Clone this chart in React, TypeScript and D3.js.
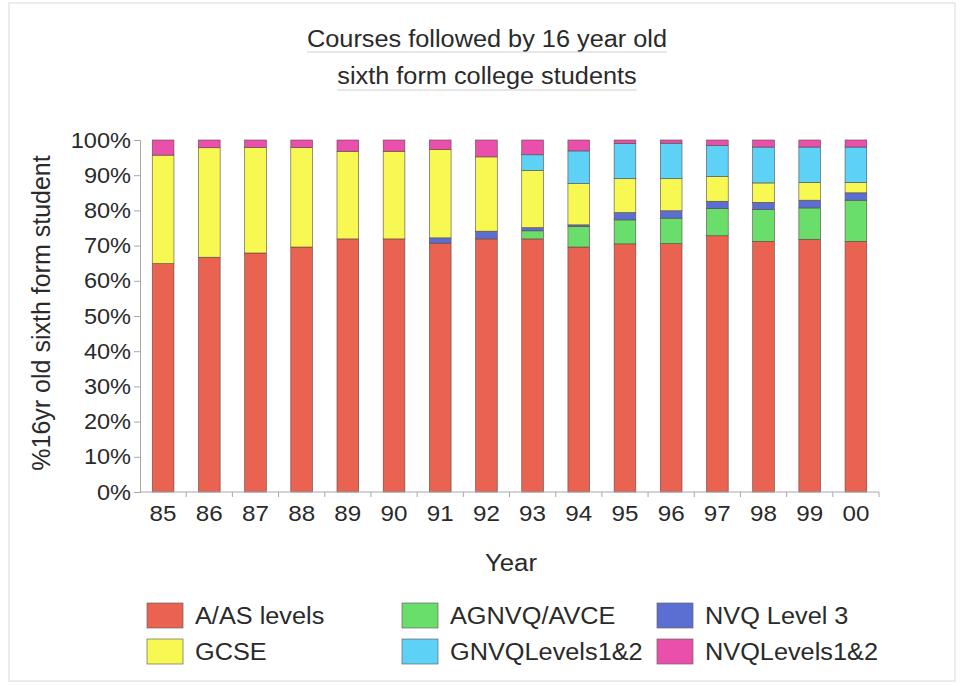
import { useEffect, useRef } from 'react'
import * as d3 from 'd3'

// years on the x axis
const years = ['85', '86', '87', '88', '89', '90', '91', '92', '93', '94', '95', '96', '97', '98', '99', '00']

// percentages, bottom of the stack first
const aasLevels = [64.9, 66.7, 67.9, 69.6, 71.9, 71.9, 70.7, 71.9, 71.9, 69.6, 70.5, 70.6, 72.8, 71.2, 71.8, 71.2]
const agnvq = [0, 0, 0, 0, 0, 0, 0, 0, 2.3, 5.8, 6.8, 7.2, 7.7, 9.0, 8.9, 11.7]
const nvqLevel3 = [0, 0, 0, 0, 0, 0, 1.5, 2.2, 0.9, 0.5, 2.1, 2.1, 2.1, 2.1, 2.2, 2.1]
const gcse = [30.8, 31.1, 30.0, 28.3, 24.9, 24.9, 25.1, 21.1, 16.2, 11.7, 9.6, 9.1, 7.0, 5.5, 5.0, 2.9]
const gnvq12 = [0, 0, 0, 0, 0, 0, 0, 0, 4.5, 9.3, 10.0, 10.1, 8.9, 10.2, 10.1, 10.1]
const nvq12 = [4.3, 2.2, 2.1, 2.1, 3.2, 3.2, 2.7, 4.8, 4.2, 3.1, 1.0, 0.9, 1.5, 2.0, 2.0, 2.0]

const seriesKeys = ['A/AS levels', 'AGNVQ/AVCE', 'NVQ Level 3', 'GCSE', 'GNVQLevels1&2', 'NVQLevels1&2']
const seriesValues = [aasLevels, agnvq, nvqLevel3, gcse, gnvq12, nvq12]
const seriesColors = ['#ea6250', '#6ade6a', '#5b6fd2', '#f8f852', '#5dd2f6', '#e94fab']

// legend is laid out column by column, like the original
const legendOrder = ['A/AS levels', 'GCSE', 'AGNVQ/AVCE', 'GNVQLevels1&2', 'NVQ Level 3', 'NVQLevels1&2']

const yTicks = [0, 10, 20, 30, 40, 50, 60, 70, 80, 90, 100]

export default function App() {
  const svgRef = useRef<SVGSVGElement>(null)

  useEffect(() => {
    document.body.style.margin = '0'
    const width = 963
    const height = 686
    const font = '"Liberation Sans", Arial, sans-serif'
    const textColor = '#2a2a2a'
    const axisColor = '#a8a8a8'

    // the scanned original is a little wider than plain Arial
    const stretch = (sel: any, k: number) => {
      sel.each(function (this: SVGTextElement) {
        const w = this.getComputedTextLength()
        d3.select(this).attr('textLength', w * k).attr('lengthAdjust', 'spacingAndGlyphs')
      })
    }

    const svg = d3.select(svgRef.current)
    svg.selectAll('*').remove()
    svg.attr('width', width).attr('height', height)

    svg.append('rect').attr('width', width).attr('height', height).attr('fill', '#fff')
    svg.append('rect')
      .attr('x', 9).attr('y', 3).attr('width', 946).attr('height', 678)
      .attr('fill', 'none').attr('stroke', '#e6e6e6').attr('stroke-width', 1.5)

    const margin = { top: 140, left: 140, right: 84, bottom: 194 }
    const innerW = width - margin.left - margin.right
    const innerH = height - margin.top - margin.bottom

    const table = years.map((year, i) => {
      const row: any = { year }
      seriesKeys.forEach((k, j) => { row[k] = seriesValues[j][i] })
      return row
    })

    const stacked = d3.stack().keys(seriesKeys).offset(d3.stackOffsetExpand)(table)

    const x = d3.scaleBand().domain(years).range([0, innerW]).padding(0)
    const y = d3.scaleLinear().domain([0, 1]).range([innerH, 0])
    const color = d3.scaleOrdinal<string>().domain(seriesKeys).range(seriesColors)

    // title
    const title = svg.append('g').attr('font-family', font).attr('fill', textColor)
    const titleLines = ['Courses followed by 16 year old', 'sixth form college students']
    titleLines.forEach((line, i) => {
      const t = title.append('text')
        .attr('x', 487).attr('y', 47 + i * 37)
        .attr('text-anchor', 'middle')
        .attr('font-size', 23)
        .text(line)
      const w = (t.node() as SVGTextElement).getComputedTextLength() * 1.1
      stretch(t, 1.1)
      title.append('line')
        .attr('x1', 487 - w / 2).attr('x2', 487 + w / 2)
        .attr('y1', 52 + i * 38).attr('y2', 52 + i * 38)
        .attr('stroke', '#cfcfcf').attr('stroke-width', 1)
    })

    const g = svg.append('g').attr('transform', `translate(${margin.left},${margin.top})`)

    // bars
    const barW = x.bandwidth() * 0.47
    g.selectAll('.layer')
      .data(stacked)
      .enter()
      .append('g')
      .attr('fill', d => color(d.key))
      .selectAll('rect')
      .data(d => d)
      .enter()
      .append('rect')
      .attr('x', d => (x(d.data.year as any) as number) + (x.bandwidth() - barW) / 2)
      .attr('y', d => y(d[1]))
      .attr('width', barW)
      .attr('height', d => Math.max(0, y(d[0]) - y(d[1])))
      .attr('stroke', d => (d[1] - d[0] > 0 ? '#5a4a4a' : 'none'))
      .attr('stroke-width', 0.6)

    // y axis
    const yAxis = g.append('g')
      .call(d3.axisLeft(y).tickValues(yTicks.map(v => v / 100)).tickSize(6).tickPadding(3)
        .tickFormat(d => `${Math.round((d as number) * 100)}%`))
    yAxis.select('.domain').attr('stroke', axisColor)
    yAxis.selectAll('.tick line').attr('stroke', axisColor)
    const yLabels = yAxis.selectAll('.tick text')
      .attr('font-family', font).attr('font-size', 22).attr('fill', textColor)
    stretch(yLabels, 1.07)

    // x axis with ticks between the bars
    g.append('line')
      .attr('x1', 0).attr('x2', innerW).attr('y1', innerH).attr('y2', innerH)
      .attr('stroke', axisColor)
    g.selectAll('.xtick')
      .data(years)
      .enter()
      .append('line')
      .attr('x1', d => (x(d) as number) + x.bandwidth())
      .attr('x2', d => (x(d) as number) + x.bandwidth())
      .attr('y1', innerH).attr('y2', innerH + 5)
      .attr('stroke', axisColor)
    const xLabels = g.selectAll('.xlabel')
      .data(years)
      .enter()
      .append('text')
      .attr('x', d => (x(d) as number) + x.bandwidth() / 2)
      .attr('y', innerH + 29)
      .attr('text-anchor', 'middle')
      .attr('font-family', font).attr('font-size', 22).attr('fill', textColor)
      .text(d => d)
    stretch(xLabels, 1.1)

    // axis titles
    const xTitle = svg.append('text')
      .attr('x', 511).attr('y', 571)
      .attr('text-anchor', 'middle')
      .attr('font-family', font).attr('font-size', 23).attr('fill', textColor)
      .text('Year')
    stretch(xTitle, 1.12)

    svg.append('text')
      .attr('transform', 'translate(50,313) rotate(-90)')
      .attr('text-anchor', 'middle')
      .attr('font-family', font).attr('font-size', 25).attr('fill', textColor)
      .text('%16yr old sixth form student')

    // legend
    const legendCols = [147, 402, 657]
    const legendRows = [603, 639]
    const legend = svg.append('g')
    legendOrder.forEach((key, i) => {
      const col = Math.floor(i / 2)
      const row = i % 2
      const lx = legendCols[col]
      const ly = legendRows[row]
      legend.append('rect')
        .attr('x', lx).attr('y', ly).attr('width', 36).attr('height', 25)
        .attr('fill', color(key)).attr('stroke', '#666').attr('stroke-width', 0.7)
      const t = legend.append('text')
        .attr('x', lx + 48).attr('y', ly + 21)
        .attr('font-family', font).attr('font-size', 23).attr('fill', textColor)
        .text(key)
      stretch(t, 1.1)
    })
  }, [])

  return <svg ref={svgRef} style={{ display: 'block' }}></svg>
}
